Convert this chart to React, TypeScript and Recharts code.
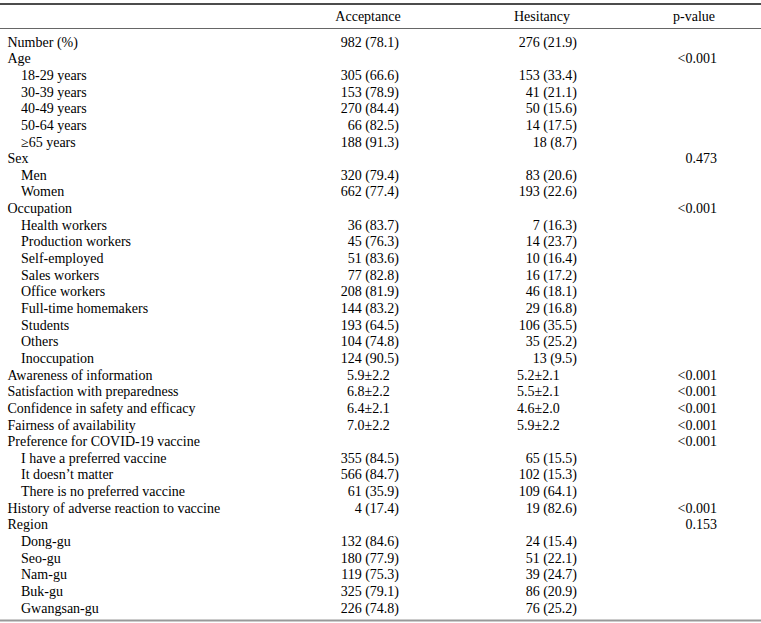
import React from 'react';
import { ComposedChart, XAxis, YAxis, Customized } from 'recharts';

// table rows, top to bottom
const rowLabels = [
  'Number (%)',
  'Age', '18-29 years', '30-39 years', '40-49 years', '50-64 years', '≥65 years',
  'Sex', 'Men', 'Women',
  'Occupation', 'Health workers', 'Production workers', 'Self-employed', 'Sales workers',
  'Office workers', 'Full-time homemakers', 'Students', 'Others', 'Inoccupation',
  'Awareness of information', 'Satisfaction with preparedness', 'Confidence in safety and efficacy',
  'Fairness of availability',
  'Preference for COVID-19 vaccine', 'I have a preferred vaccine', 'It doesn’t matter',
  'There is no preferred vaccine',
  'History of adverse reaction to vaccine',
  'Region', 'Dong-gu', 'Seo-gu', 'Nam-gu', 'Buk-gu', 'Gwangsan-gu',
];

const rowLevel = [
  0,
  0, 1, 1, 1, 1, 1,
  0, 1, 1,
  0, 1, 1, 1, 1, 1, 1, 1, 1, 1,
  0, 0, 0, 0,
  0, 1, 1, 1,
  0,
  0, 1, 1, 1, 1, 1,
];

const acceptance = [
  '982 (78.1)',
  '', '305 (66.6)', '153 (78.9)', '270 (84.4)', '66 (82.5)', '188 (91.3)',
  '', '320 (79.4)', '662 (77.4)',
  '', '36 (83.7)', '45 (76.3)', '51 (83.6)', '77 (82.8)', '208 (81.9)', '144 (83.2)',
  '193 (64.5)', '104 (74.8)', '124 (90.5)',
  '5.9±2.2', '6.8±2.2', '6.4±2.1', '7.0±2.2',
  '', '355 (84.5)', '566 (84.7)', '61 (35.9)',
  '4 (17.4)',
  '', '132 (84.6)', '180 (77.9)', '119 (75.3)', '325 (79.1)', '226 (74.8)',
];

const hesitancy = [
  '276 (21.9)',
  '', '153 (33.4)', '41 (21.1)', '50 (15.6)', '14 (17.5)', '18 (8.7)',
  '', '83 (20.6)', '193 (22.6)',
  '', '7 (16.3)', '14 (23.7)', '10 (16.4)', '16 (17.2)', '46 (18.1)', '29 (16.8)',
  '106 (35.5)', '35 (25.2)', '13 (9.5)',
  '5.2±2.1', '5.5±2.1', '4.6±2.0', '5.9±2.2',
  '', '65 (15.5)', '102 (15.3)', '109 (64.1)',
  '19 (82.6)',
  '', '24 (15.4)', '51 (22.1)', '39 (24.7)', '86 (20.9)', '76 (25.2)',
];

const pValues = [
  '',
  '<0.001', '', '', '', '', '',
  '0.473', '', '',
  '<0.001', '', '', '', '', '', '', '', '', '',
  '<0.001', '<0.001', '<0.001', '<0.001',
  '<0.001', '', '', '',
  '<0.001',
  '0.153', '', '', '', '', '',
];

const headers = ['Acceptance', 'Hesitancy', 'p-value'];

const tableData = rowLabels.map((label, i) => ({
  label,
  level: rowLevel[i],
  acceptance: acceptance[i],
  hesitancy: hesitancy[i],
  p: pValues[i],
}));

const W = 761;
const H = 623;
const FONT = "'Liberation Serif', 'Times New Roman', serif";
const INK = '#000';

// column anchors
const col = {
  label: 7.5,
  indent: 21,
  accRight: 399,
  accPm: 347,
  hesRight: 577,
  hesPm: 517,
  pRight: 717,
};

const Cell = ({ x, y, text, pmX }: { x: number; y: number; text: string; pmX: number }) => {
  if (!text) return null;
  const isPm = text.includes('±');
  return (
    <text x={isPm ? pmX : x} y={y} dy="0.33em" textAnchor={isPm ? 'start' : 'end'} fill={INK}>
      {text}
    </text>
  );
};

const RowTick = (props: any) => {
  const { y, payload } = props;
  const row = tableData[payload.index];
  if (!row) return null;
  return (
    <g style={{ fontFamily: FONT, fontSize: 14 }}>
      <text x={row.level ? col.indent : col.label} y={y} dy="0.33em" textAnchor="start" fill={INK}>
        {row.label}
      </text>
      <Cell x={col.accRight} y={y} text={row.acceptance} pmX={col.accPm} />
      <Cell x={col.hesRight} y={y} text={row.hesitancy} pmX={col.hesPm} />
      {row.p && (
        <text x={col.pRight} y={y} dy="0.33em" textAnchor="end" fill={INK}>
          {row.p}
        </text>
      )}
    </g>
  );
};

const HeaderAndRules = () => (
  <g style={{ fontFamily: FONT, fontSize: 14 }}>
    <line x1={0} x2={W} y1={4} y2={4} stroke="#111" strokeWidth={1.5} />
    <text x={368} y={21} textAnchor="middle" fill={INK}>{headers[0]}</text>
    <text x={542} y={21} textAnchor="middle" fill={INK}>{headers[1]}</text>
    <text x={694} y={21} textAnchor="middle" fill={INK}>{headers[2]}</text>
    <line x1={0} x2={W} y1={28.5} y2={28.5} stroke="#666" strokeWidth={1} />
    <line x1={0} x2={W} y1={620.5} y2={620.5} stroke="#999" strokeWidth={2} />
  </g>
);

export default function App() {
  return (
    <div style={{ position: 'absolute', left: 0, top: 0, background: '#fff' }}>
      <ComposedChart
        width={W}
        height={H}
        data={tableData}
        layout="vertical"
        margin={{ top: 42, right: 0, bottom: 15, left: 0 }}
      >
        <XAxis type="number" hide domain={[0, 1]} />
        <YAxis
          type="category"
          dataKey="label"
          width={1}
          axisLine={false}
          tickLine={false}
          interval={0}
          tick={<RowTick />}
        />
        <Customized component={<HeaderAndRules />} />
      </ComposedChart>
    </div>
  );
}
